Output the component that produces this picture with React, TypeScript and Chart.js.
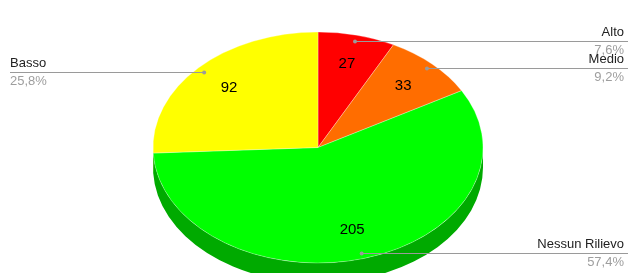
import { useEffect, useRef } from "react";
import { Chart, registerables } from "chart.js";

Chart.register(...registerables);

const categories = ["Alto", "Medio", "Nessun Rilievo", "Basso"];
const values = [27, 33, 205, 92];
const colors = ["#ff0000", "#ff6d00", "#00ff00", "#ffff00"];
const sideColors = ["#aa0000", "#aa4900", "#00aa00", "#aaaa00"];
const labelSide = ["right", "right", "right", "left"];

const TILT = 0.7;
const DEPTH = 20;
const FONT = '"Liberation Sans", Arial, sans-serif';

const pie3d = {
  id: "pie3d",
  beforeDatasetsDraw(chart: any) {
    const ctx = chart.ctx as CanvasRenderingContext2D;
    const meta = chart.getDatasetMeta(0);
    let cx = 0, cy = 0;
    meta.data.forEach((arc: any, i: number) => {
      const p = arc.getProps(["x", "y", "startAngle", "endAngle", "outerRadius"], true);
      cx = p.x; cy = p.y;
      const a = Math.max(p.startAngle, 0);
      const b = Math.min(p.endAngle, Math.PI);
      if (b <= a) return;
      ctx.beginPath();
      ctx.ellipse(p.x, p.y, p.outerRadius, p.outerRadius * TILT, 0, a, b, false);
      ctx.ellipse(p.x, p.y + DEPTH, p.outerRadius, p.outerRadius * TILT, 0, b, a, true);
      ctx.closePath();
      ctx.fillStyle = sideColors[i];
      ctx.fill();
    });
    ctx.save();
    ctx.translate(cx, cy);
    ctx.scale(1, TILT);
    ctx.translate(-cx, -cy);
  },
  afterDatasetsDraw(chart: any) {
    const ctx = chart.ctx as CanvasRenderingContext2D;
    ctx.restore();
    const meta = chart.getDatasetMeta(0);
    const total = values.reduce((s, v) => s + v, 0);
    const W = chart.width;
    meta.data.forEach((arc: any, i: number) => {
      const p = arc.getProps(["x", "y", "startAngle", "endAngle", "outerRadius"], true);
      const mid = (p.startAngle + p.endAngle) / 2;
      const R = p.outerRadius;
      // value label
      const vr = R * 0.745;
      ctx.font = `15px ${FONT}`;
      ctx.fillStyle = "#000";
      ctx.textAlign = "center";
      ctx.textBaseline = "middle";
      ctx.fillText(String(values[i]), p.x + vr * Math.cos(mid), p.y + vr * TILT * Math.sin(mid));
      // leader
      const dr = R * 0.953;
      const dx = p.x + dr * Math.cos(mid);
      const dy = Math.round(p.y + dr * TILT * Math.sin(mid)) + 0.5;
      ctx.strokeStyle = "#9a9a9a";
      ctx.lineWidth = 1;
      ctx.beginPath();
      if (labelSide[i] === "right") {
        ctx.moveTo(dx, dy);
        ctx.lineTo(W, dy);
      } else {
        ctx.moveTo(10, dy);
        ctx.lineTo(dx, dy);
      }
      ctx.stroke();
      ctx.fillStyle = "#9a9a9a";
      ctx.beginPath();
      ctx.arc(dx, dy, 2, 0, Math.PI * 2);
      ctx.fill();
      const pct = ((values[i] / total) * 100).toFixed(1).replace(".", ",") + "%";
      ctx.font = `13px ${FONT}`;
      const tx = labelSide[i] === "right" ? W - 4 : 10;
      ctx.textAlign = labelSide[i] === "right" ? "right" : "left";
      ctx.fillStyle = "#222222";
      ctx.fillText(categories[i], tx, dy - 9);
      ctx.fillStyle = "#9e9e9e";
      ctx.fillText(pct, tx, dy + 9);
    });
  },
};

export default function App() {
  const ref = useRef<HTMLCanvasElement | null>(null);
  useEffect(() => {
    document.body.style.margin = "0";
    const canvas = ref.current!;
    const chart = new Chart(canvas, {
      type: "pie",
      data: {
        labels: categories,
        datasets: [
          {
            data: values,
            backgroundColor: colors,
            borderColor: "rgba(255,255,255,0.35)",
            borderWidth: 1,
            radius: 165,
            clip: false,
          } as any,
        ],
      },
      options: {
        responsive: false,
        animation: false,
        devicePixelRatio: 1,
        layout: { padding: { left: 8, right: 0, top: 22, bottom: 0 } },
        plugins: { legend: { display: false }, tooltip: { enabled: false } },
        events: [],
      },
      plugins: [pie3d],
    });
    return () => chart.destroy();
  }, []);
  return (
    <div style={{ width: 628, height: 273, background: "#fff" }}>
      <canvas ref={ref} width={628} height={273} style={{ display: "block" }} />
    </div>
  );
}
